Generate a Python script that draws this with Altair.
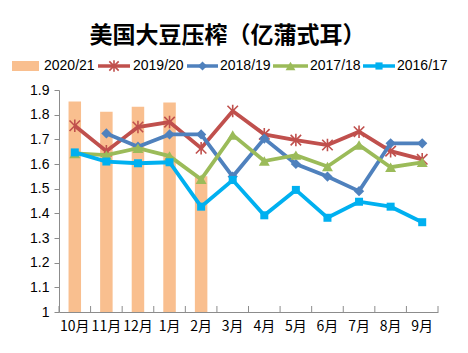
import altair as alt
import pandas as pd

months = ["10月", "11月", "12月", "1月", "2月", "3月", "4月", "5月", "6月", "7月", "8月", "9月"]
bar_2020_21 = [1.853, 1.812, 1.832, 1.849, 1.55, None, None, None, None, None, None, None]
s_2019_20 = [1.755, 1.652, 1.75, 1.77, 1.664, 1.815, 1.72, 1.697, 1.677, 1.731, 1.652, 1.619]
s_2018_19 = [None, 1.724, 1.67, 1.72, 1.72, 1.549, 1.703, 1.60, 1.549, 1.49, 1.684, 1.684]
s_2017_18 = [1.643, 1.636, 1.664, 1.632, 1.538, 1.718, 1.612, 1.636, 1.59, 1.677, 1.587, 1.607]
s_2016_17 = [1.647, 1.61, 1.603, 1.607, 1.427, 1.535, 1.392, 1.495, 1.382, 1.447, 1.427, 1.364]
y_ticks = [1.0, 1.1, 1.2, 1.3, 1.4, 1.5, 1.6, 1.7, 1.8, 1.9]

W, H = 379, 222
STAR = "M-1,-1L1,1M-1,1L1,-1M0,-1.2L0,1.2"

series = [
    ("2019/20", s_2019_20, "#C0504D", STAR, 110, False),
    ("2018/19", s_2018_19, "#4F81BD", "diamond", 105, True),
    ("2017/18", s_2017_18, "#9BBB59", "triangle-up", 120, True),
    ("2016/17", s_2016_17, "#00B0F0", "square", 64, True),
]

xscale = alt.Scale(domain=months, paddingInner=0, paddingOuter=0)
xaxis = alt.Axis(title=None, ticks=False, labelAngle=0, domainColor="#8C8C8C",
                 labelFont="Noto Sans CJK SC", labelFontSize=14, labelColor="#000000",
                 labelPadding=7, labelOverlap=False)
yscale = alt.Scale(domain=[1, 1.9], nice=False, zero=False)
yaxis = alt.Axis(title=None, values=y_ticks, format=".1~f", grid=False, tickSize=5,
                 tickColor="#8C8C8C", domainColor="#8C8C8C", labelFont="Liberation Sans",
                 labelFontSize=14, labelColor="#000000", labelPadding=5, labelOverlap=False,
                 tickCount=10)


def X(**kw):
    return alt.X("month:N", sort=months, scale=xscale, axis=xaxis, **kw)


def Y():
    return alt.Y("value:Q", scale=yscale, axis=yaxis)


bar_df = pd.DataFrame({"month": months, "value": bar_2020_21}).dropna()
bars = alt.Chart(bar_df).mark_bar(size=12.5, color="#F9BF8F").encode(
    x=X(), y=Y(), y2=alt.datum(1),
)

layers = [bars]
for name, vals, color, shape, size, filled in series:
    df = pd.DataFrame({"month": months, "value": vals}).dropna()
    base = alt.Chart(df)
    line = base.mark_line(color=color, strokeWidth=3.8).encode(x=X(), y=Y())
    if filled:
        pt = base.mark_point(shape=shape, size=size, filled=True, color=color, opacity=1)
    else:
        pt = base.mark_point(shape=shape, size=size, filled=False, color=color,
                             strokeWidth=1.6, opacity=1)
    pts = pt.encode(x=X(), y=Y())
    layers += [line, pts]

# x-axis tick marks between categories (pointing upward)
tick_df = pd.DataFrame({"month": months})
ticks = alt.Chart(tick_df).mark_rule(color="#8C8C8C", strokeWidth=1).encode(
    x=X(bandPosition=0),
    y=alt.value(H - 6), y2=alt.value(H),
)
end_tick = alt.Chart(tick_df.tail(1)).mark_rule(color="#8C8C8C", strokeWidth=1).encode(
    x=X(bandPosition=1),
    y=alt.value(H - 6), y2=alt.value(H),
)
layers += [ticks, end_tick]

# legend
one = pd.DataFrame({"a": [0]})
LY = -24
leg = []
leg.append(alt.Chart(one).mark_rect(color="#F9BF8F").encode(
    x=alt.value(-47), x2=alt.value(-20), y=alt.value(LY - 5), y2=alt.value(LY + 5)))
leg.append(alt.Chart(one).mark_text(align="left", baseline="middle", fontSize=14,
                                    font="Liberation Sans", color="#000000").encode(
    x=alt.value(-15), y=alt.value(LY), text=alt.value("2020/21")))
leg_x = [(39, 71, 74), (128, 159, 161), (214, 249, 251), (304, 336, 338)]
for (name, vals, color, shape, size, filled), (x1, x2, tx) in zip(series, leg_x):
    leg.append(alt.Chart(one).mark_rule(color=color, strokeWidth=3.5).encode(
        x=alt.value(x1), x2=alt.value(x2), y=alt.value(LY)))
    if filled:
        m = alt.Chart(one).mark_point(shape=shape, size=size * 0.8, filled=True, color=color, opacity=1)
    else:
        m = alt.Chart(one).mark_point(shape=shape, size=size * 0.8, filled=False, color=color,
                                      strokeWidth=1.6, opacity=1)
    leg.append(m.encode(x=alt.value((x1 + x2) / 2), y=alt.value(LY)))
    leg.append(alt.Chart(one).mark_text(align="left", baseline="middle", fontSize=14,
                                        font="Liberation Sans", color="#000000").encode(
        x=alt.value(tx), y=alt.value(LY), text=alt.value(name)))
layers += leg

chart = alt.layer(*layers).properties(
    width=W, height=H,
    title=alt.TitleParams("美国大豆压榨（亿蒲式耳）", font="Noto Sans CJK SC", fontSize=23,
                          fontWeight="bold", anchor="middle", frame="group", dx=-21,
                          offset=9, color="#000000"),
    padding={"left": 59, "top": 90, "right": 30, "bottom": 41},
    autosize=alt.AutoSizeParams(type="none"),
    background="white",
).configure_view(stroke=None)

chart.save("out.html", embed_options={"renderer": "svg", "actions": False})
